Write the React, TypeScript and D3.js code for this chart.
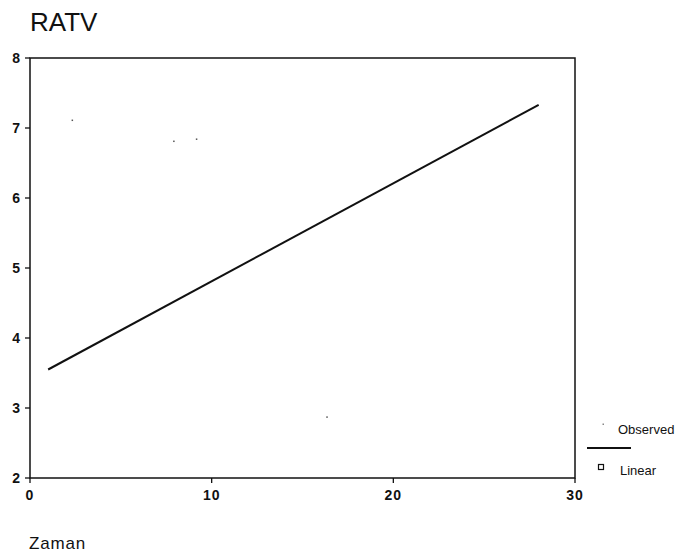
import React from "react";
import * as d3 from "d3";

const xTicks = [0, 10, 20, 30];
const yTicks = [2, 3, 4, 5, 6, 7, 8];
const observedX = [2.33, 7.92, 9.17, 16.35];
const observedY = [7.11, 6.81, 6.84, 2.87];
const linearX = [1, 28];
const linearY = [3.55, 7.33];

export default function App() {
  const W = 691, H = 560;
  const x = d3.scaleLinear().domain([0, 30]).range([30, 575]);
  const y = d3.scaleLinear().domain([2, 8]).range([478, 58]);
  const line = d3.line<number>().x((d, i) => x(linearX[i])).y((d) => y(d));
  const font = "'Liberation Sans', Arial, sans-serif";
  return (
    <svg width={W} height={H} style={{ position: "absolute", left: 0, top: 0 }} fontFamily={font}>
      <rect width={W} height={H} fill="#fff" />
      <text x={30} y={31} fontSize={26} fill="#111">RATV</text>
      <rect x={x(0)} y={y(8)} width={x(30) - x(0)} height={y(2) - y(8)} fill="none" stroke="#111" strokeWidth={1.5} />
      {yTicks.map((t) => (
        <g key={"y" + t}>
          <line x1={x(0) - 5} x2={x(0)} y1={y(t)} y2={y(t)} stroke="#111" strokeWidth={1.3} />
          <text x={20} y={y(t)} dy="0.35em" textAnchor="end" fontSize={14} fontWeight="bold" fill="#111">{t}</text>
        </g>
      ))}
      {xTicks.map((t) => (
        <g key={"x" + t}>
          <line x1={x(t)} x2={x(t)} y1={y(2)} y2={y(2) + 5} stroke="#111" strokeWidth={1.3} />
          <text x={x(t)} y={495} dy="0.35em" textAnchor="middle" fontSize={14} fontWeight="bold" fill="#111" letterSpacing={1}>{t}</text>
        </g>
      ))}
      <text x={29} y={543} dy="0.35em" fontSize={17} fill="#111" letterSpacing={0.8}>Zaman</text>
      {observedX.map((v, i) => (
        <rect key={"o" + i} x={x(v) - 0.75} y={y(observedY[i]) - 0.75} width={1.5} height={1.5} fill="#555" />
      ))}
      <path d={line(linearY) || ""} fill="none" stroke="#111" strokeWidth={2} />
      <rect x={602.5} y={423.5} width={1.5} height={1.5} fill="#888" />
      <text x={618} y={429} dy="0.35em" fontSize={13} fill="#111">Observed</text>
      <line x1={587} x2={631} y1={448} y2={448} stroke="#111" strokeWidth={1.8} />
      <rect x={598.5} y={464.5} width={5} height={5} fill="none" stroke="#111" strokeWidth={1.2} />
      <text x={620} y={470} dy="0.35em" fontSize={13} fill="#111">Linear</text>
    </svg>
  );
}
